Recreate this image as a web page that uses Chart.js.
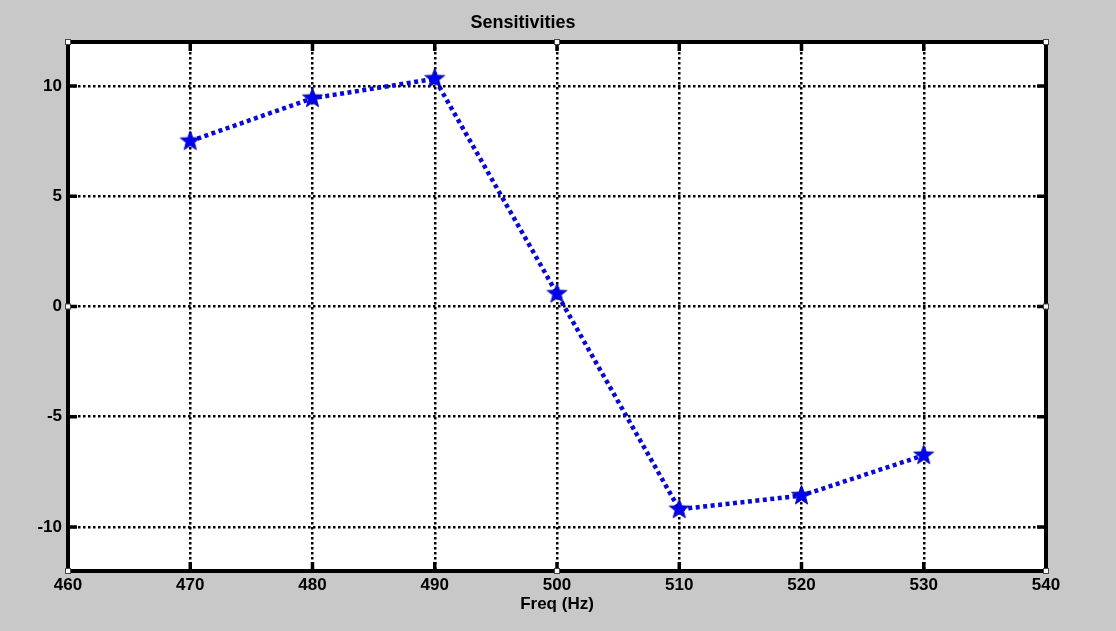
<!DOCTYPE html>
<html>
<head>
<meta charset="utf-8">
<script src="https://cdn.jsdelivr.net/npm/chart.js@4.4.1/dist/chart.umd.min.js"></script>
<style>
  html, body { margin: 0; padding: 0; background: #c8c8c8; }
  #wrap { width: 1116px; height: 631px; }
</style>
</head>
<body>
<div id="wrap"><canvas id="chart"></canvas></div>
<script>
// values
var freqs = [470, 480, 490, 500, 510, 520, 530];
var sens = [7.5, 9.45, 10.33, 0.58, -9.2, -8.58, -6.75];
var xTicks = [460, 470, 480, 490, 500, 510, 520, 530, 540];
var yTicks = [-10, -5, 0, 5, 10];

var lineBlue = "rgb(8, 8, 215)";

// filled five point star, used as point marker
function makeStar(r) {
  var c = document.createElement("canvas");
  var s = Math.ceil(r * 2 + 2);
  c.width = s; c.height = s;
  var g = c.getContext("2d");
  var cx = s / 2, cy = s / 2, inner = r * 0.42;
  g.beginPath();
  for (var i = 0; i < 10; i++) {
    var rad = i % 2 === 0 ? r : inner;
    var a = -Math.PI / 2 + i * Math.PI / 5;
    var px = cx + rad * Math.cos(a), py = cy + rad * Math.sin(a);
    if (i === 0) g.moveTo(px, py); else g.lineTo(px, py);
  }
  g.closePath();
  g.fillStyle = "rgb(0, 0, 245)";
  g.fill();
  g.strokeStyle = "rgb(0, 0, 140)";
  g.lineWidth = 0.8;
  g.stroke();
  return c;
}
var star = makeStar(10.5);

var boxPlugin = {
  id: "box",
  beforeDraw: function (chart) {
    var ctx = chart.ctx, a = chart.chartArea;
    ctx.save();
    ctx.fillStyle = "#c8c8c8";
    ctx.fillRect(0, 0, chart.width, chart.height);
    ctx.fillStyle = "#ffffff";
    ctx.fillRect(a.left, a.top, a.right - a.left, a.bottom - a.top);
    ctx.restore();
  },
  afterDraw: function (chart) {
    var ctx = chart.ctx, a = chart.chartArea;
    var xs = chart.scales.x, ys = chart.scales.y;
    ctx.save();
    ctx.strokeStyle = "#000";
    // inner tick marks
    ctx.lineWidth = 3.5;
    xTicks.forEach(function (v) {
      var px = xs.getPixelForValue(v);
      ctx.beginPath();
      ctx.moveTo(px, a.bottom); ctx.lineTo(px, a.bottom - 9);
      ctx.moveTo(px, a.top); ctx.lineTo(px, a.top + 9);
      ctx.stroke();
    });
    yTicks.forEach(function (v) {
      var py = ys.getPixelForValue(v);
      ctx.beginPath();
      ctx.moveTo(a.left, py); ctx.lineTo(a.left + 9, py);
      ctx.moveTo(a.right, py); ctx.lineTo(a.right - 9, py);
      ctx.stroke();
    });
    // frame
    ctx.lineWidth = 4;
    ctx.strokeRect(a.left, a.top, a.right - a.left, a.bottom - a.top);
    // small selection handles
    var mx = (a.left + a.right) / 2, my = ys.getPixelForValue(0);
    var pts = [[a.left, a.top], [a.right, a.top], [a.left, a.bottom], [a.right, a.bottom],
               [mx, a.top], [mx, a.bottom], [a.left, my], [a.right, my]];
    ctx.fillStyle = "#fff";
    ctx.strokeStyle = "#444";
    ctx.lineWidth = 1;
    pts.forEach(function (p) {
      ctx.fillRect(p[0] - 2.5, p[1] - 2.5, 5, 5);
      ctx.strokeRect(p[0] - 2.5, p[1] - 2.5, 5, 5);
    });
    ctx.restore();
  }
};

var tickFont = { family: "'Liberation Sans', Arial, sans-serif", size: 17, weight: "bold" };

new Chart(document.getElementById("chart"), {
  type: "line",
  data: {
    datasets: [{
      data: freqs.map(function (f, i) { return { x: f, y: sens[i] }; }),
      borderColor: lineBlue,
      borderWidth: 4.5,
      borderDash: [4, 3.5],
      tension: 0,
      fill: false,
      pointStyle: star,
      pointRadius: 11,
      pointHoverRadius: 11
    }]
  },
  plugins: [boxPlugin],
  options: {
    responsive: true,
    maintainAspectRatio: false,
    animation: false,
    layout: { padding: { left: 0, right: 70, top: 0, bottom: 0 } },
    plugins: {
      legend: { display: false },
      tooltip: { enabled: false },
      title: {
        display: true,
        text: "Sensitivities",
        color: "#000",
        font: { family: "'Liberation Sans', Arial, sans-serif", size: 18, weight: "bold" },
        padding: { top: 12, bottom: 8.4 }
      }
    },
    scales: {
      x: {
        type: "linear",
        min: 460,
        max: 540,
        afterBuildTicks: function (scale) {
          scale.ticks = xTicks.map(function (v) { return { value: v }; });
        },
        afterFit: function (scale) { scale.height = 60; },
        grid: { color: "#000", lineWidth: 2.5, drawTicks: false },
        border: { display: false, dash: [2.5, 2.5] },
        ticks: { color: "#000", font: tickFont, padding: 4, maxRotation: 0 },
        title: {
          display: true,
          text: "Freq (Hz)",
          color: "#000",
          font: tickFont,
          padding: { top: 0, bottom: 16 }
        }
      },
      y: {
        type: "linear",
        min: -12,
        max: 12,
        afterBuildTicks: function (scale) {
          scale.ticks = yTicks.map(function (v) { return { value: v }; });
        },
        afterFit: function (scale) { scale.width = 68; },
        grid: { color: "#000", lineWidth: 2.5, drawTicks: false },
        border: { display: false, dash: [2.5, 2.5] },
        ticks: { color: "#000", font: tickFont, padding: 6 }
      }
    }
  }
});
</script>
</body>
</html>
